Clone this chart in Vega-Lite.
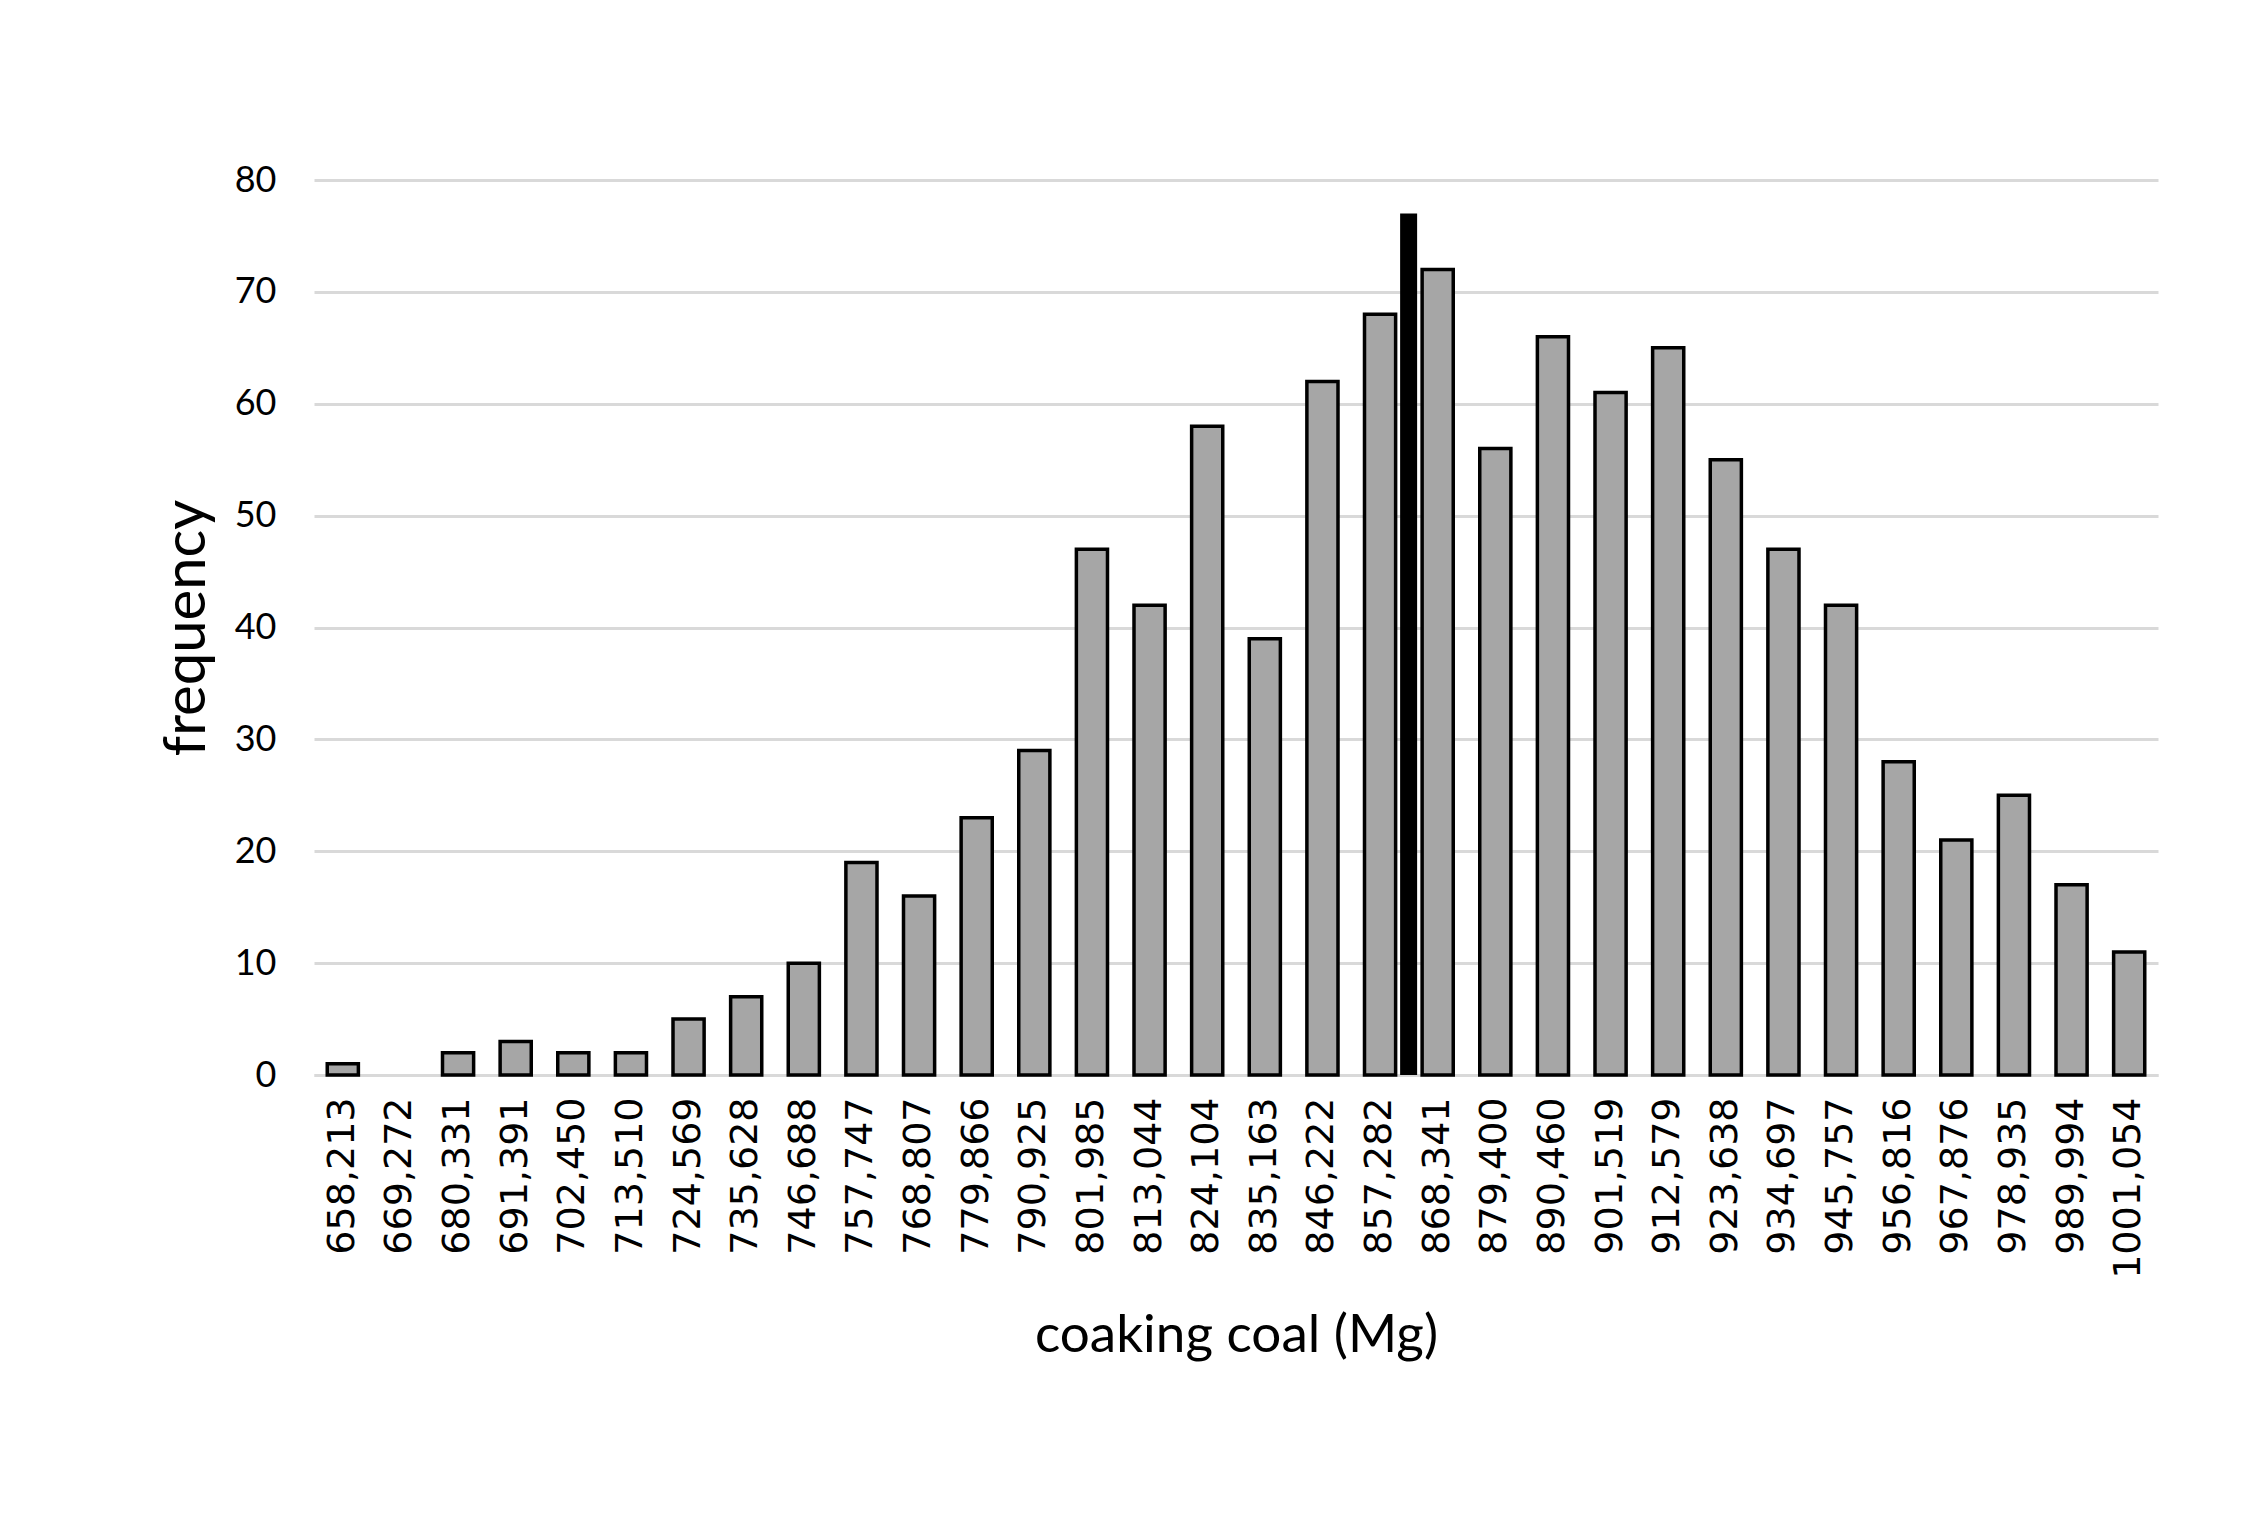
{
  "$schema": "https://vega.github.io/schema/vega-lite/v6.json",
  "width": 1844,
  "height": 895,
  "autosize": "none",
  "padding": {"left": 314, "top": 180, "right": 102, "bottom": 439},
  "background": "white",
  "config": {"view": {"stroke": null}},
  "datasets": {
    "hist": [
      {"bin": "658,213", "frequency": 1},
      {"bin": "669,272", "frequency": 0},
      {"bin": "680,331", "frequency": 2},
      {"bin": "691,391", "frequency": 3},
      {"bin": "702,450", "frequency": 2},
      {"bin": "713,510", "frequency": 2},
      {"bin": "724,569", "frequency": 5},
      {"bin": "735,628", "frequency": 7},
      {"bin": "746,688", "frequency": 10},
      {"bin": "757,747", "frequency": 19},
      {"bin": "768,807", "frequency": 16},
      {"bin": "779,866", "frequency": 23},
      {"bin": "790,925", "frequency": 29},
      {"bin": "801,985", "frequency": 47},
      {"bin": "813,044", "frequency": 42},
      {"bin": "824,104", "frequency": 58},
      {"bin": "835,163", "frequency": 39},
      {"bin": "846,222", "frequency": 62},
      {"bin": "857,282", "frequency": 68},
      {"bin": "868,341", "frequency": 72},
      {"bin": "879,400", "frequency": 56},
      {"bin": "890,460", "frequency": 66},
      {"bin": "901,519", "frequency": 61},
      {"bin": "912,579", "frequency": 65},
      {"bin": "923,638", "frequency": 55},
      {"bin": "934,697", "frequency": 47},
      {"bin": "945,757", "frequency": 42},
      {"bin": "956,816", "frequency": 28},
      {"bin": "967,876", "frequency": 21},
      {"bin": "978,935", "frequency": 25},
      {"bin": "989,994", "frequency": 17},
      {"bin": "1001,054", "frequency": 11}
    ],
    "marker": [{"bin": "857,282", "value": 77, "base": 0}]
  },
  "layer": [
    {
      "data": {"name": "hist"},
      "mark": {"type": "bar", "fill": "#a6a6a6", "stroke": "black", "strokeWidth": 3.5},
      "encoding": {
        "x": {
          "field": "bin", "type": "ordinal", "sort": null,
          "scale": {
            "domain": ["658,213","669,272","680,331","691,391","702,450","713,510","724,569","735,628","746,688","757,747","768,807","779,866","790,925","801,985","813,044","824,104","835,163","846,222","857,282","868,341","879,400","890,460","901,519","912,579","923,638","934,697","945,757","956,816","967,876","978,935","989,994","1001,054"],
            "paddingInner": 0.46, "paddingOuter": 0.23
          },
          "axis": {
            "title": "coaking coal (Mg)",
            "titleFont": "Lato", "titleFontSize": 53, "titleFontWeight": "normal", "titleColor": "black",
            "titlePadding": 34,
            "labelAngle": -90, "labelFont": "DejaVu Sans", "labelFontSize": 38, "labelColor": "black",
            "labelPadding": 22, "labelLimit": 0,
            "ticks": false, "domainColor": "#d9d9d9", "domainWidth": 3, "grid": false
          }
        },
        "y": {
          "field": "frequency", "type": "quantitative",
          "scale": {"domain": [0, 80], "nice": false},
          "axis": {
            "title": "frequency",
            "titleFont": "Lato", "titleFontSize": 58, "titleFontWeight": "normal", "titleColor": "black",
            "titlePadding": 18,
            "values": [0, 10, 20, 30, 40, 50, 60, 70, 80],
            "labelFont": "Lato", "labelFontSize": 36, "labelColor": "black", "labelPadding": 38,
            "ticks": false, "domain": false,
            "grid": true, "gridColor": "#d9d9d9", "gridWidth": 3
          }
        },
        "strokeOpacity": {"condition": {"test": "datum.frequency == 0", "value": 0}, "value": 1}
      }
    },
    {
      "data": {"name": "marker"},
      "mark": {"type": "rule", "color": "black", "strokeWidth": 17, "strokeCap": "butt", "xOffset": 13},
      "encoding": {
        "x": {"field": "bin", "type": "ordinal", "bandPosition": 1},
        "y": {"field": "value", "type": "quantitative"},
        "y2": {"field": "base"}
      }
    }
  ]
}
